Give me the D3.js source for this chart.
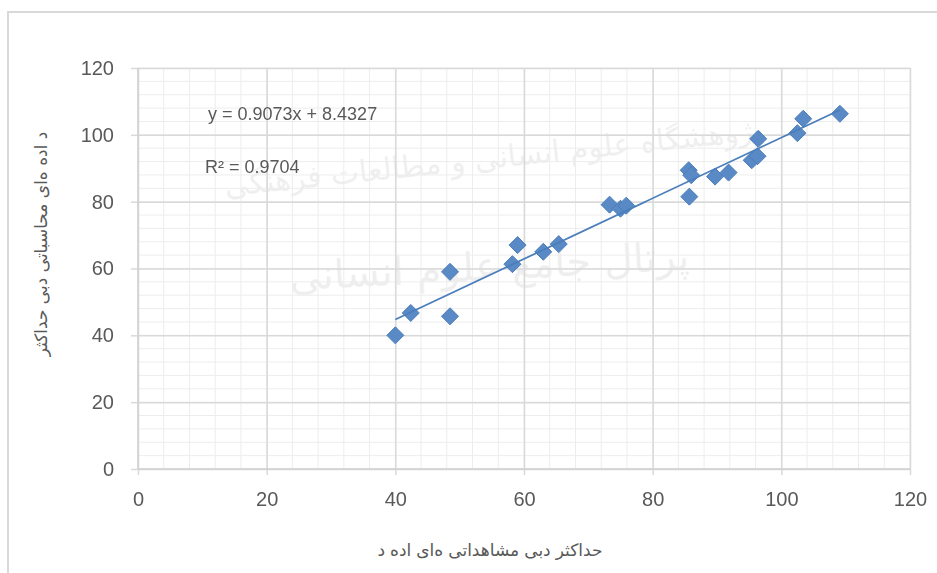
<!DOCTYPE html>
<html>
<head>
<meta charset="utf-8">
<script src="https://cdn.jsdelivr.net/npm/d3@7"></script>
<style>
  body { margin: 0; background: #fff; }
  text { font-family: "Liberation Sans", Arial, sans-serif; fill: #595959; }
  .fa { font-family: "DejaVu Sans", sans-serif; }
</style>
</head>
<body>
<svg id="canvas"></svg>
<script>
let observed = [40, 42.4, 48.5, 48.5, 58.2, 59.0, 63.0, 65.4, 73.3, 75.0, 75.9,
  85.6, 86.0, 85.7, 89.7, 91.8, 95.4, 96.3, 96.4, 102.5, 103.4, 109.1];
let computed = [40, 46.7, 59.0, 45.7, 61.3, 67.0, 65.0, 67.3, 79.1, 77.9, 78.8,
  89.4, 87.9, 81.5, 87.5, 88.7, 92.4, 93.6, 98.8, 100.5, 104.8, 106.3];

let slope = 0.9073;
let intercept = 8.4327;
let equationLabel = "y = 0.9073x + 8.4327";
let r2Label = "R² = 0.9704";

let majorTicks = [0, 20, 40, 60, 80, 100, 120];
let minorTicks = d3.range(0, 121, 4);

// x title shows its words left to right, as in the original picture
let xTitleWords = ["د", "اده", "ه\u200Cای", "مشاهداتی", "دبی", "حداکثر"];
let yTitle = "د اده ه\u200Cای محاسباتی دبی حداکثر";
let watermark1 = "پژوهشگاه علوم انسانی و مطالعات فرهنگی";
let watermark2 = "پرتال جامع علوم انسانی";

let width = 937;
let height = 573;

let canvas = d3.select("#canvas");
canvas.attr("width", width).attr("height", height);

let xScale = d3.scaleLinear().domain([0, 120]).range([138, 910]);
let yScale = d3.scaleLinear().domain([0, 120]).range([469, 68]);

// chart frame
canvas.append("rect")
  .attr("x", 8).attr("y", 12)
  .attr("width", 1000).attr("height", 700)
  .attr("fill", "none")
  .attr("stroke", "#d9d9d9")
  .attr("stroke-width", 2);

// faint watermark
let wm = canvas.append("g").attr("opacity", 0.07);
wm.append("text").attr("class", "fa")
  .attr("x", 495).attr("y", 168)
  .attr("text-anchor", "middle")
  .attr("transform", "rotate(-6, 495, 168)")
  .style("font-size", "30px").style("fill", "#000")
  .text(watermark1);
wm.append("text").attr("class", "fa")
  .attr("x", 490).attr("y", 280)
  .attr("text-anchor", "middle")
  .attr("transform", "rotate(-3, 490, 280)")
  .style("font-size", "40px").style("fill", "#000")
  .text(watermark2);

// gridlines
let grid = canvas.append("g");
grid.selectAll(".minor-x").data(minorTicks).enter().append("line")
  .attr("x1", (d) => xScale(d)).attr("x2", (d) => xScale(d))
  .attr("y1", yScale(0)).attr("y2", yScale(120))
  .attr("stroke", "#ededed").attr("stroke-width", 1);
grid.selectAll(".minor-y").data(minorTicks).enter().append("line")
  .attr("y1", (d) => yScale(d)).attr("y2", (d) => yScale(d))
  .attr("x1", xScale(0)).attr("x2", xScale(120))
  .attr("stroke", "#ededed").attr("stroke-width", 1);

let xAxis = d3.axisBottom(xScale).tickValues(majorTicks)
  .tickSize(-(yScale(0) - yScale(120))).tickPadding(14);
let yAxis = d3.axisLeft(yScale).tickValues(majorTicks)
  .tickSize(-(xScale(120) - xScale(0))).tickPadding(14);

let gx = canvas.append("g")
  .attr("transform", "translate(0, " + yScale(0) + ")")
  .call(xAxis);
let gy = canvas.append("g")
  .attr("transform", "translate(" + xScale(0) + ", 0)")
  .call(yAxis);

[gx, gy].forEach((g) => {
  g.select(".domain").remove();
  g.selectAll(".tick line").attr("stroke", "#d9d9d9").attr("stroke-width", 1.5);
  g.selectAll(".tick text").style("font-size", "20px")
    .style("font-family", "Liberation Sans, Arial, sans-serif")
    .attr("fill", "#595959");
});

// outer tick marks on the axes
gx.selectAll(".tick").append("line")
  .attr("y1", 0).attr("y2", 6).attr("stroke", "#d9d9d9").attr("stroke-width", 1.5);
gy.selectAll(".tick").append("line")
  .attr("x1", 0).attr("x2", -7).attr("stroke", "#d9d9d9").attr("stroke-width", 1.5);
gy.selectAll(".tick text").attr("dx", "-10");
gx.selectAll(".tick text").attr("dy", "1.15em");

// axis lines
canvas.append("line")
  .attr("x1", xScale(0)).attr("x2", xScale(120))
  .attr("y1", yScale(0)).attr("y2", yScale(0))
  .attr("stroke", "#d0d0d0").attr("stroke-width", 1.5);
canvas.append("line")
  .attr("x1", xScale(0)).attr("x2", xScale(0))
  .attr("y1", yScale(0)).attr("y2", yScale(120))
  .attr("stroke", "#d0d0d0").attr("stroke-width", 1.5);

// points
let diamond = (cx, cy, r) =>
  "M" + cx + "," + (cy - r) + "L" + (cx + r) + "," + cy +
  "L" + cx + "," + (cy + r) + "L" + (cx - r) + "," + cy + "Z";

canvas.append("g")
  .selectAll("path")
  .data(observed)
  .enter()
  .append("path")
  .attr("d", (d, i) => diamond(xScale(d), yScale(computed[i]), 8.5))
  .attr("fill", "#5a8ac6")
  .attr("stroke", "#4a7cba")
  .attr("stroke-width", 1);

// trendline
let xMin = d3.min(observed);
let xMax = d3.max(observed);
canvas.append("line")
  .attr("x1", xScale(xMin)).attr("y1", yScale(slope * xMin + intercept))
  .attr("x2", xScale(xMax)).attr("y2", yScale(slope * xMax + intercept))
  .attr("stroke", "#4a7ebb")
  .attr("stroke-width", 1.75);

// equation labels
canvas.append("text")
  .attr("x", 208).attr("y", 120)
  .style("font-size", "18px")
  .text(equationLabel);
canvas.append("text")
  .attr("x", 205).attr("y", 173)
  .style("font-size", "18px")
  .text(r2Label);

// x title: words placed one after another from the left, then centred
let xt = canvas.append("g");
let words = xt.selectAll("text")
  .data(xTitleWords)
  .enter()
  .append("text")
  .attr("class", "fa")
  .attr("y", 556)
  .style("font-size", "17px")
  .text((d) => d);
let gap = 5;
let cursor = 0;
words.each(function () {
  d3.select(this).attr("x", cursor);
  cursor += this.getComputedTextLength() + gap;
});
xt.attr("transform", "translate(" + (490 - (cursor - gap) / 2) + ", 0)");

canvas.append("text").attr("class", "fa")
  .attr("transform", "translate(47, 244) rotate(-90)")
  .attr("text-anchor", "middle")
  .style("font-size", "17px")
  .text(yTitle);
</script>
</body>
</html>
